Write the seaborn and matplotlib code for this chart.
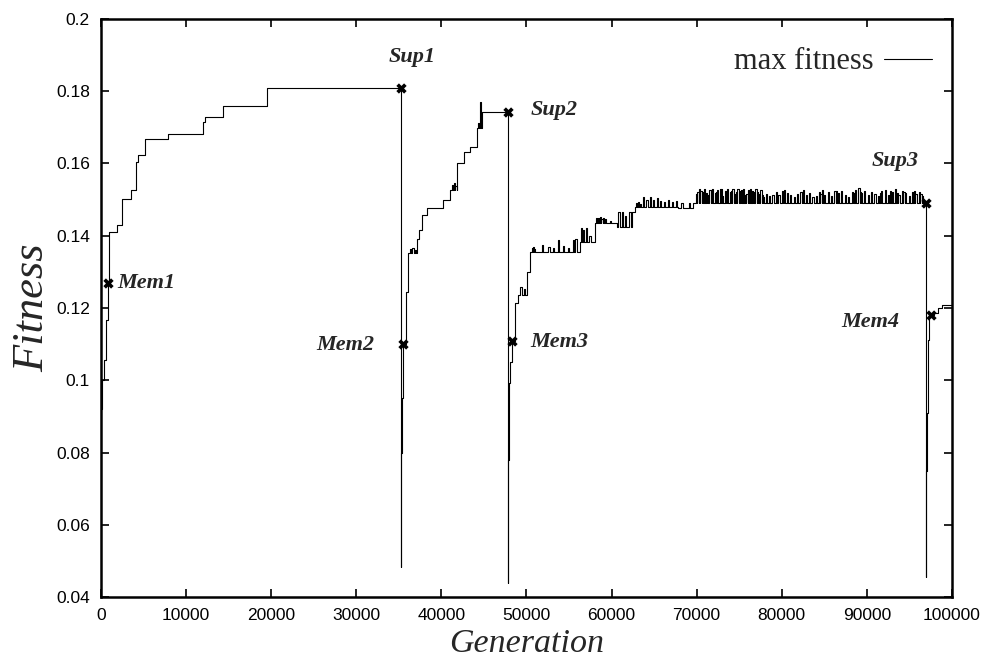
import numpy as np
import pandas as pd
import seaborn as sns
import matplotlib.pyplot as plt

# --- max fitness curve, step points (generation, fitness) per segment ---
seg1_gen = [0, 150, 300, 550, 790, 900, 1000, 1915, 2430, 3525, 4110, 4310,
            5170, 7910, 12020, 12220, 14370, 19470]
seg1_fit = [0.092, 0.100, 0.1056, 0.1167, 0.1268, 0.1388, 0.1411, 0.1430, 0.1501,
            0.1527, 0.1605, 0.1624, 0.1668, 0.1682, 0.1716, 0.1730, 0.1759, 0.1808]

seg2_gen = [35250, 35300, 35400, 35520, 35840, 36040, 37170, 37370, 37760, 38300,
            40150, 41010, 41800, 42650, 43360, 44220, 44770]
seg2_fit = [0.0483, 0.080, 0.095, 0.110, 0.1245, 0.1351, 0.1390, 0.1416, 0.1457,
            0.1476, 0.1499, 0.1527, 0.1600, 0.1633, 0.1647, 0.1697, 0.1742]

seg3_gen = [47790, 47850, 47950, 48100, 48300, 48650, 49040, 50090, 50410, 56290,
            58050, 60600, 62360, 62750, 67840, 69600]
seg3_fit = [0.0439, 0.078, 0.0992, 0.105, 0.111, 0.1213, 0.1236, 0.1300, 0.1356,
            0.1383, 0.1434, 0.1425, 0.1467, 0.1480, 0.1476, 0.1490]

seg4_gen = [96940, 96990, 97050, 97150, 97350, 97490, 97900, 98400, 98800, 100000]
seg4_fit = [0.0456, 0.075, 0.091, 0.1111, 0.1176, 0.118, 0.1185, 0.1199, 0.1208, 0.1208]

# short upward blips of the max fitness
spike_gen = [36300, 36600, 36900, 41200, 41450, 41650, 44300, 44500, 44600,
             49300, 49700, 50600, 50750, 50900, 51780, 52570, 53150, 53740, 54320,
             54910, 55500, 55750, 56400, 56600, 57000, 57400, 58200, 58400, 58600,
             58800, 59000, 59200, 59800, 60800, 61200, 61600, 62100, 62900, 63100,
             63300, 63700, 64100, 64500, 64900, 65300, 65700, 66200, 66600, 67100,
             67600, 68200, 69100,
             69900, 70100, 70300, 70600, 70900, 71200, 71500, 71800, 72100, 72400, 72700,
             73000, 73300, 73600, 73900, 74200, 74500, 74800, 75100, 75400, 75700,
             76000, 76300, 76600, 76900, 77200, 77500, 77800, 78100, 78500, 78900,
             79300, 79600, 80000, 80300, 80600, 81000, 81400, 81800, 82200, 82500,
             82800, 83200, 83600, 84000, 84400, 84700, 85000, 85400, 85800, 86200,
             86600, 87000, 87400, 87800, 88200, 88600, 89000, 89300, 89700, 90100,
             90500, 90900, 91300, 91700, 92100, 92500, 92900, 93300, 93700, 94100,
             94500, 94900, 95300, 95700, 96100, 96500,
             70450, 71050, 71650, 72250, 72850, 73450, 74050, 74650, 75250, 75850,
             76450, 77050, 77650, 80150, 82350, 84550, 86400, 88400, 89150, 91500,
             92700, 93500, 94300, 95500, 96300]
spike_top = [0.1362, 0.1366, 0.1360, 0.1540, 0.1545, 0.1538, 0.1712, 0.1720, 0.1771,
             0.1258, 0.1252, 0.1365, 0.1368, 0.1362, 0.1374, 0.1370, 0.1366, 0.1388, 0.1372,
             0.1366, 0.1388, 0.1392, 0.1421, 0.1415, 0.1421, 0.1400, 0.1450, 0.1448, 0.1452,
             0.1447, 0.1450, 0.1446, 0.1440, 0.1465, 0.1467, 0.1455, 0.1467, 0.1490, 0.1492,
             0.1489, 0.1508, 0.1500, 0.1508, 0.1499, 0.1505, 0.1496, 0.1492, 0.1500, 0.1492,
             0.1495, 0.1490, 0.1490,
             0.1515, 0.1521, 0.1528, 0.1520, 0.1529, 0.1512, 0.1527, 0.1530, 0.1518, 0.1526, 0.1529,
             0.1510, 0.1525, 0.1530, 0.1522, 0.1528, 0.1515, 0.1529, 0.1524, 0.1530, 0.1512,
             0.1527, 0.1529, 0.1520, 0.1528, 0.1515, 0.1526, 0.1508, 0.1516, 0.1510, 0.1514,
             0.1521, 0.1512, 0.1525, 0.1527, 0.1518, 0.1512, 0.1508, 0.1516, 0.1520, 0.1526,
             0.1513, 0.1519, 0.1506, 0.1510, 0.1522, 0.1527, 0.1514, 0.1520, 0.1510, 0.1523,
             0.1517, 0.1525, 0.1512, 0.1508, 0.1520, 0.1527, 0.1531, 0.1518, 0.1525, 0.1512,
             0.1521, 0.1515, 0.1509, 0.1524, 0.1526, 0.1514, 0.1520, 0.1528, 0.1512, 0.1524,
             0.1518, 0.1509, 0.1522, 0.1515, 0.1520, 0.1511,
             0.1524, 0.1517, 0.1526, 0.1521, 0.1528, 0.1519, 0.1525, 0.1522, 0.1527, 0.1516,
             0.1523, 0.1520, 0.1512, 0.1519, 0.1522, 0.1515, 0.1524, 0.1517, 0.1521, 0.1519,
             0.1523, 0.1517, 0.1520, 0.1525, 0.1516]
spike_width = 140

# marked points
mark_labels = ["Mem1", "Sup1", "Mem2", "Sup2", "Mem3", "Sup3", "Mem4"]
mark_gen = [790, 35250, 35520, 47790, 48300, 96940, 97490]
mark_fit = [0.1268, 0.1808, 0.110, 0.1742, 0.111, 0.149, 0.118]
text_gen = [1880, 36550, 28670, 53230, 53820, 93300, 90360]
text_fit = [0.1269, 0.1895, 0.1098, 0.1748, 0.1106, 0.1607, 0.1161]
text_ha = ["left", "center", "center", "center", "center", "center", "center"]

x_ticks = list(range(0, 100001, 10000))
y_ticks = [0.04, 0.06, 0.08, 0.1, 0.12, 0.14, 0.16, 0.18, 0.2]

# === build the curve ===
steps = pd.DataFrame({"gen": seg1_gen + seg2_gen + seg3_gen + seg4_gen,
                      "fit": seg1_fit + seg2_fit + seg3_fit + seg4_fit})
idx = np.searchsorted(steps["gen"].values, spike_gen, side="right") - 1
base = steps["fit"].values[idx]
spikes = pd.concat([
    pd.DataFrame({"gen": spike_gen, "fit": spike_top}),
    pd.DataFrame({"gen": np.array(spike_gen) + spike_width, "fit": base}),
])
df = pd.concat([steps, spikes]).sort_values("gen", kind="stable").reset_index(drop=True)

# === plot ===
sns.set_theme(style="ticks")
plt.rcParams["font.family"] = ["Liberation Sans", "DejaVu Sans"]
serif = ["Liberation Serif", "DejaVu Serif"]

fig = plt.figure(figsize=(9.84, 6.61), dpi=100)
ax = fig.add_axes([0.1026, 0.0968, 0.8648, 0.8745])

sns.lineplot(data=df, x="gen", y="fit", sort=False, estimator=None,
             drawstyle="steps-post", color="black", linewidth=0.8,
             label="max fitness", ax=ax)
sns.scatterplot(x=mark_gen, y=mark_fit, marker="X", s=55, color="black",
                linewidth=0, zorder=3, ax=ax)

for lab, gx, gy, ha in zip(mark_labels, text_gen, text_fit, text_ha):
    ax.text(gx, gy, lab, ha=ha, va="center", fontsize=16, family=serif,
            style="italic", weight="bold")

ax.set_xlim(0, 100000)
ax.set_ylim(0.04, 0.2)
ax.set_xticks(x_ticks)
ax.set_xticklabels([str(v) for v in x_ticks])
ax.set_yticks(y_ticks)
ax.set_yticklabels([f"{v:g}" for v in y_ticks])
ax.tick_params(direction="in", length=6, width=1.2, top=True, right=True,
               labelsize=12.5, pad=8, colors="black")
for sp in ax.spines.values():
    sp.set_linewidth(1.8)
    sp.set_color("black")

ax.set_xlabel("Generation", fontsize=24.5, family=serif, style="italic", labelpad=4)
ax.set_ylabel("Fitness", fontsize=32, family=serif, style="italic", labelpad=3)

ax.legend(loc="center right", bbox_to_anchor=(0.9941, 0.9256), frameon=False,
          markerfirst=False, borderpad=0, handlelength=1.57, handletextpad=0.33,
          prop={"family": serif, "size": 22})

plt.savefig("out.png", dpi=100)
plt.close()
